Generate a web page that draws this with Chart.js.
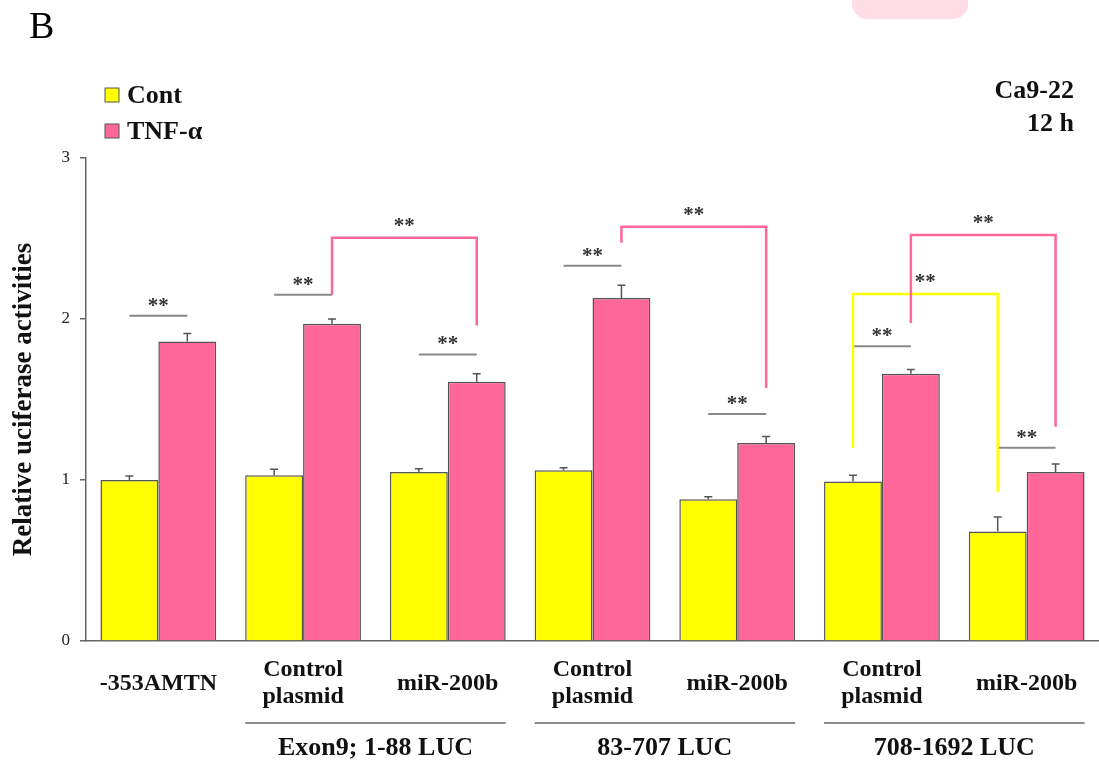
<!DOCTYPE html>
<html>
<head>
<meta charset="utf-8">
<script src="https://cdn.jsdelivr.net/npm/chart.js@4.4.1/dist/chart.umd.min.js"></script>
<style>
  html, body { margin: 0; padding: 0; background: #ffffff; }
  #wrap { width: 1099px; height: 762px; position: relative; }
</style>
</head>
<body>
<div id="wrap"><canvas id="c" width="1099" height="762"></canvas></div>
<script>
// ---- data ----
const categories = ['-353AMTN', ['Control', 'plasmid'], 'miR-200b', ['Control', 'plasmid'], 'miR-200b', ['Control', 'plasmid'], 'miR-200b'];
const seriesNames = ['Cont', 'TNF-\u03b1'];
const contValues = [1.00, 1.03, 1.05, 1.06, 0.88, 0.99, 0.68];
const tnfValues  = [1.86, 1.97, 1.61, 2.13, 1.23, 1.66, 1.05];
const contErr    = [0.025, 0.037, 0.02, 0.016, 0.016, 0.04, 0.09];
const tnfErr     = [0.05, 0.03, 0.05, 0.08, 0.04, 0.027, 0.05];
const yTicks     = [0, 1, 2, 3];
const groupLabels = ['Exon9; 1-88 LUC', '83-707 LUC', '708-1692 LUC'];
const groupFirst  = [1, 3, 5];
const groupLast   = [2, 4, 6];
// significance line heights (in y-units) for each category (Cont vs TNF)
const sigLineY = [2.02, 2.15, 1.78, 2.33, 1.41, 1.83, 1.20];
// brackets between categories: from-category, to-category, series index, top, left end, right end
const brFrom   = [1, 3, 5, 5];
const brTo     = [2, 4, 6, 6];
const brSeries = [1, 1, 0, 1];
const brTop    = [2.505, 2.573, 2.155, 2.522];
const brLeft   = [2.15, 2.474, 1.199, 1.975];
const brRight  = [1.96, 1.571, 0.927, 1.331];
const titleLines = ['Ca9-22', '12 h'];

const YELLOW = '#FFFF00';
const PINK = '#FF6699';
const EDGE = '#555555';
const SERIF = '"Liberation Serif", "Times New Roman", serif';

const annot = {
  id: 'annot',
  beforeDraw(chart) {
    const ctx = chart.ctx;
    ctx.save();
    // faint pink tab at the top (decoration in the reference)
    ctx.fillStyle = '#FFDDE6';
    ctx.beginPath();
    ctx.roundRect(852, -20, 116, 39, 15);
    ctx.fill();
    // panel letter
    ctx.fillStyle = '#000';
    ctx.font = '38px ' + SERIF;
    ctx.textBaseline = 'alphabetic';
    ctx.textAlign = 'left';
    ctx.fillText('B', 29, 38);
    ctx.restore();
  },
  afterDatasetsDraw(chart) {
    const ctx = chart.ctx;
    const x = chart.scales.x, y = chart.scales.y;
    const area = chart.chartArea;
    const metas = [chart.getDatasetMeta(0), chart.getDatasetMeta(1)];
    const vals = [contValues, tnfValues];
    const errs = [contErr, tnfErr];
    ctx.save();
    // error bars
    ctx.strokeStyle = EDGE;
    ctx.lineWidth = 1.5;
    metas.forEach((m, d) => m.data.forEach((bar, i) => {
      const top = y.getPixelForValue(vals[d][i] + errs[d][i]);
      ctx.beginPath();
      ctx.moveTo(bar.x, bar.y);
      ctx.lineTo(bar.x, top);
      ctx.moveTo(bar.x - 4, top);
      ctx.lineTo(bar.x + 4, top);
      ctx.stroke();
    }));
    const stars = (cx, py) => {
      ctx.fillStyle = '#333';
      ctx.font = 'bold 21px ' + SERIF;
      ctx.textAlign = 'center';
      ctx.textBaseline = 'alphabetic';
      ctx.fillText('**', cx, py - 4);
    };
    // within-category significance lines
    ctx.strokeStyle = '#888';
    ctx.lineWidth = 2;
    sigLineY.forEach((v, i) => {
      const py = y.getPixelForValue(v);
      const x0 = metas[0].data[i].x, x1 = metas[1].data[i].x;
      ctx.beginPath();
      ctx.moveTo(x0, py);
      ctx.lineTo(x1, py);
      ctx.stroke();
      stars((x0 + x1) / 2, py);
    });
    // brackets between categories
    brFrom.forEach((a, k) => {
      const b = brTo[k], s = brSeries[k];
      const xa = metas[s].data[a].x, xb = metas[s].data[b].x;
      const pt = y.getPixelForValue(brTop[k]);
      ctx.strokeStyle = s === 0 ? YELLOW : PINK;
      ctx.lineWidth = 2.5;
      ctx.beginPath();
      ctx.moveTo(xa, y.getPixelForValue(brLeft[k]));
      ctx.lineTo(xa, pt);
      ctx.lineTo(xb, pt);
      ctx.lineTo(xb, y.getPixelForValue(brRight[k]));
      ctx.stroke();
      stars((xa + xb) / 2, pt - 2);
    });
    // group lines and labels under the axis
    groupLabels.forEach((lab, g) => {
      const a = groupFirst[g], b = groupLast[g];
      const xa = metas[0].data[a].x - metas[0].data[a].width / 2;
      const xb = metas[1].data[b].x + metas[1].data[b].width / 2;
      const ly = area.bottom + 82;
      ctx.strokeStyle = '#666';
      ctx.lineWidth = 1.5;
      ctx.beginPath();
      ctx.moveTo(xa, ly);
      ctx.lineTo(xb, ly);
      ctx.stroke();
      ctx.fillStyle = '#111';
      ctx.font = 'bold 26px ' + SERIF;
      ctx.textAlign = 'center';
      ctx.textBaseline = 'middle';
      ctx.fillText(lab, (xa + xb) / 2, area.bottom + 107);
    });
    // legend
    chart.data.datasets.forEach((ds, d) => {
      const ty = 95 + d * 36;
      ctx.fillStyle = ds.backgroundColor;
      ctx.fillRect(105, ty - 7, 14, 14);
      ctx.strokeStyle = EDGE;
      ctx.lineWidth = 1;
      ctx.strokeRect(105, ty - 7, 14, 14);
      ctx.fillStyle = '#111';
      ctx.font = 'bold 26px ' + SERIF;
      ctx.textAlign = 'left';
      ctx.textBaseline = 'middle';
      ctx.fillText(ds.label, 127, ty + 1);
    });
    // title at top right
    ctx.fillStyle = '#111';
    ctx.font = 'bold 26px ' + SERIF;
    ctx.textAlign = 'right';
    ctx.textBaseline = 'middle';
    titleLines.forEach((t, i) => ctx.fillText(t, 1074, 91 + i * 33));
    ctx.restore();
  }
};

new Chart(document.getElementById('c'), {
  type: 'bar',
  data: {
    labels: categories,
    datasets: [
      { label: seriesNames[0], data: contValues, backgroundColor: YELLOW, borderColor: EDGE, borderWidth: 1.5,
        categoryPercentage: 0.8, barPercentage: 1.0 },
      { label: seriesNames[1], data: tnfValues, backgroundColor: PINK, borderColor: EDGE, borderWidth: 1.5,
        categoryPercentage: 0.8, barPercentage: 1.0 }
    ]
  },
  options: {
    responsive: false,
    animation: false,
    devicePixelRatio: 1,
    layout: { padding: { top: 158, right: 0, left: 0, bottom: 0 } },
    plugins: { legend: { display: false }, tooltip: { enabled: false } },
    scales: {
      x: {
        offset: true,
        grid: { display: false, drawTicks: false },
        border: { display: true, color: '#666', width: 1.5 },
        ticks: {
          color: '#111',
          font: { family: SERIF, size: 24, weight: 'bold', lineHeight: 1.125 },
          padding: 29,
          maxRotation: 0,
          autoSkip: false,
          crossAlign: 'center'
        },
        afterFit: (s) => { s.height = 121; s.paddingLeft = 0; s.paddingRight = 0; }
      },
      y: {
        min: 0,
        max: 3,
        afterBuildTicks: (s) => { s.ticks = yTicks.map(v => ({ value: v })); },
        grid: { display: true, drawOnChartArea: false, drawTicks: true, tickLength: 6, color: '#666', lineWidth: 1.5 },
        border: { display: true, color: '#666', width: 1.5 },
        ticks: { color: '#222', font: { family: SERIF, size: 17 }, padding: 10 },
        title: { display: true, text: 'Relative uciferase activities', color: '#111',
                 font: { family: SERIF, size: 27, weight: 'bold', lineHeight: 1.2 }, padding: { top: 8, bottom: 0 } },
        afterFit: (s) => { s.width = 86; }
      }
    }
  },
  plugins: [annot]
});
</script>
</body>
</html>
